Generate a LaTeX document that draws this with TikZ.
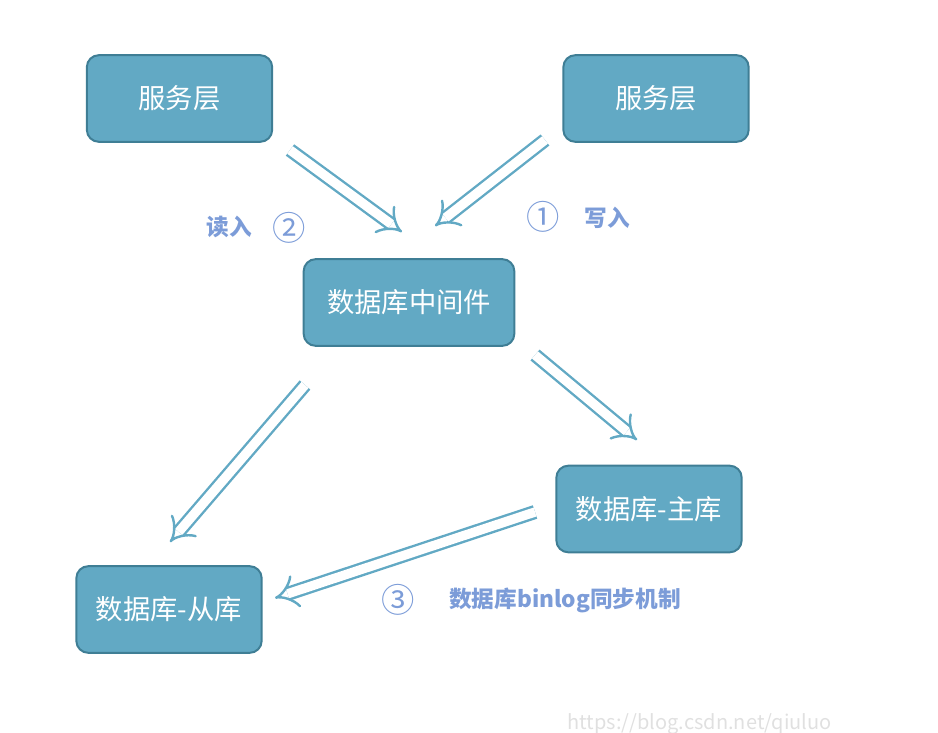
\documentclass[tikz,border=0pt]{standalone}
\usepackage{fontspec}
\setmainfont{Noto Sans CJK SC}
\usetikzlibrary{arrows.meta}
\definecolor{boxfill}{HTML}{62A9C4}
\definecolor{boxdraw}{HTML}{3F7E95}
\definecolor{lbl}{HTML}{7C9CD8}
\begin{document}
\begin{tikzpicture}[x=0.75pt,y=-0.75pt,
  box/.style={draw=boxdraw,line width=1.5pt,fill=boxfill,rounded corners=9pt,
    minimum width=139pt,minimum height=65pt,text=white,font=\fontsize{20.5}{22}\selectfont},
  arr/.style={draw=boxfill,double=white,double distance=7pt,line width=1.8pt,-{Implies}},
  lab/.style={text=lbl,font=\bfseries\fontsize{17}{19}\selectfont},
  num/.style={text=lbl,font=\fontsize{25}{26}\selectfont}]
\useasboundingbox (0,0) rectangle (938,732);
\node[box] (s1) at (179.5,98.5) {服务层};
\node[box] (s2) at (656,98.5) {服务层};
\node[box,minimum width=158pt] (mid) at (409,302.5) {数据库中间件};
\node[box] (m) at (649,509) {数据库-主库};
\node[box] (sl) at (169,609.5) {数据库-从库};
\coordinate (a1) at (290,150); \coordinate (b1) at (402,232);
\coordinate (a2) at (545,140); \coordinate (b2) at (435,226);
\coordinate (a3) at (305,385); \coordinate (b3) at (170,542);
\coordinate (a4) at (535,355); \coordinate (b4) at (637,440);
\coordinate (a5) at (535,512); \coordinate (b5) at (275,598);
\draw[arr] (a1) -- (b1);
\draw[arr] (a2) -- (b2);
\draw[arr] (a3) -- (b3);
\draw[arr] (a4) -- (b4);
\draw[arr] (a5) -- (b5);
\node[lab] (l1) at (229,227) {读入};
\node[num] (n2) at (289,228) {②};
\node[num] (n1) at (543,217) {①};
\node[lab] (l2) at (607,218) {写入};
\node[num] (n3) at (398,600) {③};
\node[lab] (l3) at (565,600) {数据库binlog同步机制};
\begin{scope}
\clip (0,0) rectangle (938,732);
\node[anchor=west,text=black!12,font=\fontsize{15}{16}\selectfont] (wm) at (563,724) {https://blog.csdn.net/qiuluo};
\end{scope}
\end{tikzpicture}
\end{document}
